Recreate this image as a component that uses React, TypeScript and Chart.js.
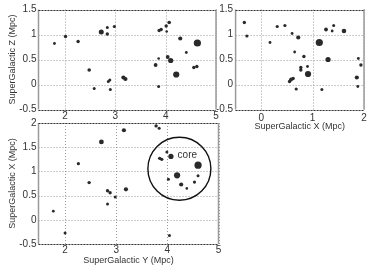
import React, { useEffect, useRef } from "react";
import Chart from "chart.js/auto";

// ---- Data (Mpc) ----
// Top-left panel: SuperGalactic Y (x) vs Z (y)
const tlY = [1.79, 2.01, 2.26, 2.72, 2.84, 2.84, 2.98, 2.48, 2.58, 2.86, 2.89, 2.9, 3.16, 3.2, 3.8, 3.86, 3.86, 3.87, 3.91, 4.01, 4.07, 4.02, 4.04, 4.1, 4.21, 4.29, 4.41, 4.63, 4.56, 4.62];
const tlZ = [0.82, 0.96, 0.86, 1.05, 1.14, 1.01, 1.16, 0.29, -0.08, 0.06, 0.09, -0.1, 0.14, 0.11, 0.39, 0.52, -0.04, 1.08, 1.1, 1.17, 1.24, 1.06, 0.55, 0.48, 0.2, 0.92, 0.64, 0.83, 0.34, 0.36];
const tlSize = [1.4, 1.7, 1.7, 2.5, 1.5, 1.7, 1.6, 1.8, 1.5, 1.5, 1.5, 1.5, 2.1, 2.1, 1.9, 1.3, 1.5, 1.7, 1.7, 1.7, 1.8, 1.3, 1.9, 2.6, 3.1, 2.1, 1.4, 3.6, 1.7, 1.7];

// Top-right panel: SuperGalactic X (x) vs Z (y)
const trX = [-0.33, -0.28, 0.17, 0.31, 0.46, 0.6, 0.72, 0.65, 0.83, 0.77, 0.77, 0.9, 0.91, 0.55, 0.58, 0.62, 0.68, 1.13, 1.26, 1.38, 1.41, 1.61, 1.3, 1.18, 1.89, 1.94, 1.86, 1.88];
const trZ = [1.24, 0.97, 0.84, 1.16, 1.18, 1.02, 0.94, 0.65, 0.56, 0.34, 0.29, 0.36, 0.21, 0.06, 0.1, 0.12, -0.09, 0.84, 1.1, 1.07, 1.18, 1.07, 0.5, -0.1, 0.52, 0.39, 0.14, -0.04];
const trSize = [1.7, 1.6, 1.4, 1.6, 1.6, 1.4, 2.1, 1.4, 1.7, 1.7, 1.7, 1.4, 3.1, 1.7, 1.9, 1.7, 1.6, 3.6, 1.9, 1.4, 1.5, 2.3, 2.6, 1.5, 1.4, 1.7, 2.1, 1.4];

// Bottom-left panel: SuperGalactic Y (x) vs X (y)
const blY = [1.77, 2.0, 2.26, 2.47, 2.71, 2.83, 2.88, 2.83, 2.98, 3.19, 3.15, 3.78, 3.84, 3.99, 3.85, 3.89, 4.07, 4.6, 4.19, 4.02, 4.27, 4.38, 4.53, 4.6, 4.04];
const blX = [0.18, -0.27, 1.16, 0.77, 1.61, 0.6, 0.56, 0.33, 0.47, 0.63, 1.85, 1.94, 1.89, 1.4, 1.27, 1.25, 1.31, 1.13, 0.92, 0.84, 0.73, 0.65, 0.78, 0.91, -0.32];
const blSize = [1.4, 1.5, 1.6, 1.7, 2.4, 1.7, 1.7, 1.5, 1.5, 2.1, 2.1, 1.7, 1.5, 1.5, 1.7, 1.7, 2.6, 3.6, 3.1, 1.5, 2.1, 1.3, 1.6, 1.5, 1.5];

// Core circle and its label (in bottom-left panel data units)
const coreY = [4.235];
const coreX = [1.055];
const coreLabel = "core";
const coreLabelY = 4.39;
const coreLabelX = 1.34;

// Tick labels
const ticksSgY = [2, 3, 4, 5];
const ticksSgXh = [0, 1, 2];
const ticksZ = [-0.5, 0, 0.5, 1, 1.5];
const ticksSgXv = [-0.5, 0, 0.5, 1, 1.5, 2];

const FONT = "'Liberation Sans', Arial, sans-serif";
const W = 374;
const H = 277;
const DOT = "#2a2a2a";

const gridPlugin = {
  id: "dottedGrid",
  beforeDatasetsDraw(chart: any) {
    const { ctx, chartArea: a } = chart;
    const xs = chart.scales.x;
    const ys = chart.scales.y;
    ctx.save();
    ctx.strokeStyle = "#9a9a9a";
    ctx.lineWidth = 1;
    ctx.setLineDash([1, 2]);
    ctx.beginPath();
    for (const t of xs.ticks) {
      const px = Math.round(xs.getPixelForValue(t.value)) + 0.5;
      ctx.moveTo(px, a.top);
      ctx.lineTo(px, a.bottom);
    }
    for (const t of ys.ticks) {
      const py = Math.round(ys.getPixelForValue(t.value)) + 0.5;
      ctx.moveTo(a.left, py);
      ctx.lineTo(a.right, py);
    }
    ctx.stroke();
    ctx.restore();
  },
};

const boxPlugin = {
  id: "boxFrame",
  afterDatasetsDraw(chart: any) {
    const { ctx, chartArea: a } = chart;
    ctx.save();
    ctx.strokeStyle = "#9a9a9a";
    ctx.lineWidth = 1.5;
    ctx.beginPath();
    ctx.moveTo(a.left, a.top);
    ctx.lineTo(a.left, a.bottom);
    ctx.moveTo(a.right, a.top);
    ctx.lineTo(a.right, a.bottom);
    ctx.stroke();
    ctx.strokeStyle = "#333";
    ctx.lineWidth = 1;
    ctx.setLineDash([2, 1]);
    ctx.beginPath();
    ctx.moveTo(a.left, Math.round(a.top) + 0.5);
    ctx.lineTo(a.right, Math.round(a.top) + 0.5);
    ctx.moveTo(a.left, Math.round(a.bottom) + 0.5);
    ctx.lineTo(a.right, Math.round(a.bottom) + 0.5);
    ctx.stroke();
    ctx.restore();
  },
};

const coreLabelPlugin = {
  id: "coreLabel",
  afterDatasetsDraw(chart: any) {
    const { ctx } = chart;
    const x = chart.scales.x.getPixelForValue(coreLabelY);
    const y = chart.scales.y.getPixelForValue(coreLabelX);
    ctx.save();
    ctx.font = `10px ${FONT}`;
    ctx.fillStyle = "#333";
    ctx.textAlign = "center";
    ctx.textBaseline = "middle";
    ctx.fillText(coreLabel, x, y);
    ctx.restore();
  },
};

type PanelCfg = {
  xs: number[];
  ys: number[];
  sizes: number[];
  area: { left: number; right: number; top: number; bottom: number };
  xMin: number;
  xMax: number;
  yMin: number;
  yMax: number;
  xTicks: number[];
  yTicks: number[];
  xTitle?: string;
  yTitle?: string;
  xAxisH: number;
  padLeft: number;
  xTickPad: number;
  yTickPad: number;
  extra?: any[];
  plugins?: any[];
};

function buildConfig(p: PanelCfg): any {
  const pts = p.xs.map((x, i) => ({ x, y: p.ys[i] }));
  const datasets: any[] = [
    {
      data: pts,
      pointRadius: p.sizes,
      pointBackgroundColor: DOT,
      pointBorderWidth: 0,
      pointBorderColor: DOT,
      showLine: false,
    },
  ];
  if (p.extra) datasets.push(...p.extra);
  const grid = { display: false, drawTicks: false };
  const border = { display: false };
  return {
    type: "scatter",
    data: { datasets },
    plugins: [gridPlugin, boxPlugin, ...(p.plugins || [])],
    options: {
      animation: false,
      responsive: false,
      devicePixelRatio: 1,
      events: [],
      layout: {
        padding: {
          left: p.padLeft,
          top: p.area.top,
          right: W - p.area.right,
          bottom: H - p.area.bottom - p.xAxisH,
        },
      },
      plugins: { legend: { display: false }, tooltip: { enabled: false } },
      scales: {
        x: {
          type: "linear",
          min: p.xMin,
          max: p.xMax,
          grid,
          border,
          afterBuildTicks: (s: any) => {
            s.ticks = p.xTicks.map((v) => ({ value: v }));
          },
          afterFit: (s: any) => {
            s.height = p.xAxisH;
          },
          ticks: {
            padding: p.xTickPad,
            color: "#333",
            font: { family: FONT, size: 10 },
            maxRotation: 0,
            autoSkip: false,
            callback: (v: any) => String(v),
          },
          title: p.xTitle
            ? {
                display: true,
                text: p.xTitle,
                color: "#333",
                font: { family: FONT, size: 9 },
                padding: { top: 0, bottom: 0 },
              }
            : { display: false },
        },
        y: {
          type: "linear",
          min: p.yMin,
          max: p.yMax,
          grid,
          border,
          afterBuildTicks: (s: any) => {
            s.ticks = p.yTicks.map((v) => ({ value: v }));
          },
          afterFit: (s: any) => {
            s.width = p.area.left - p.padLeft;
          },
          ticks: {
            padding: p.yTickPad,
            color: "#333",
            font: { family: FONT, size: 10 },
            autoSkip: false,
            callback: (v: any) => String(v),
          },
          title: p.yTitle
            ? {
                display: true,
                text: p.yTitle,
                color: "#333",
                font: { family: FONT, size: 9 },
                padding: { top: 7.5, bottom: 0 },
              }
            : { display: false },
        },
      },
    },
  };
}

function Panel({ cfg }: { cfg: PanelCfg }) {
  const ref = useRef<HTMLCanvasElement | null>(null);
  useEffect(() => {
    if (!ref.current) return;
    const chart = new Chart(ref.current, buildConfig(cfg));
    return () => chart.destroy();
  }, []);
  return (
    <canvas
      ref={ref}
      width={W}
      height={H}
      style={{ position: "absolute", left: 0, top: 0, width: W, height: H }}
    />
  );
}

const tlCfg: PanelCfg = {
  xs: tlY,
  ys: tlZ,
  sizes: tlSize,
  area: { left: 38.5, right: 216, top: 9.5, bottom: 109.5 },
  xMin: 1.473,
  xMax: 5,
  yMin: -0.5,
  yMax: 1.5,
  xTicks: ticksSgY,
  yTicks: ticksZ,
  yTitle: "SuperGalactic Z (Mpc)",
  xAxisH: 20,
  padLeft: 0,
  xTickPad: 1,
  yTickPad: 2,
};

const trCfg: PanelCfg = {
  xs: trX,
  ys: trZ,
  sizes: trSize,
  area: { left: 235.6, right: 364, top: 9.5, bottom: 109.5 },
  xMin: -0.5,
  xMax: 2,
  yMin: -0.5,
  yMax: 1.5,
  xTicks: ticksSgXh,
  yTicks: ticksZ,
  xTitle: "SuperGalactic X (Mpc)",
  xAxisH: 22.9,
  padLeft: 217,
  xTickPad: 2.5,
  yTickPad: 2.5,
};

const blCfg: PanelCfg = {
  xs: blY,
  ys: blX,
  sizes: blSize,
  area: { left: 38.5, right: 218.5, top: 123, bottom: 251.3 },
  xMin: 1.48,
  xMax: 5,
  yMin: -0.5,
  yMax: 2,
  xTicks: ticksSgY,
  yTicks: ticksSgXv,
  xTitle: "SuperGalactic Y (Mpc)",
  yTitle: "SuperGalactic X (Mpc)",
  xAxisH: 21.4,
  padLeft: 0,
  xTickPad: 0,
  yTickPad: 2,
  extra: [
    {
      data: coreY.map((y, i) => ({ x: y, y: coreX[i] })),
      pointRadius: 31.5,
      pointBackgroundColor: "rgba(0,0,0,0)",
      pointBorderColor: "#111",
      pointBorderWidth: 1.4,
      showLine: false,
      clip: false,
    },
  ],
  plugins: [coreLabelPlugin],
};

export default function App() {
  return (
    <div
      style={{
        position: "fixed",
        left: 0,
        top: 0,
        width: W,
        height: H,
        background: "#fff",
        overflow: "hidden",
      }}
    >
      <Panel cfg={tlCfg} />
      <Panel cfg={trCfg} />
      <Panel cfg={blCfg} />
    </div>
  );
}
